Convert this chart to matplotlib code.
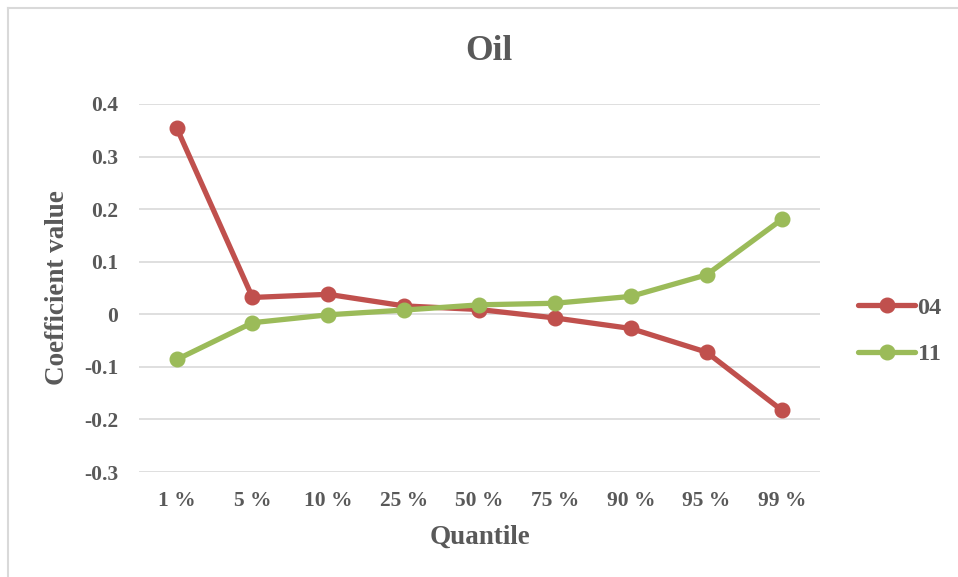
import matplotlib
matplotlib.use("Agg")
import matplotlib.pyplot as plt
from matplotlib.lines import Line2D

quantiles = ["1 %", "5 %", "10 %", "25 %", "50 %", "75 %", "90 %", "95 %", "99 %"]
series_04 = [0.354, 0.032, 0.038, 0.016, 0.009, -0.007, -0.027, -0.072, -0.183]
series_11 = [-0.086, -0.016, -0.001, 0.008, 0.018, 0.021, 0.034, 0.075, 0.181]
y_ticks = [-0.3, -0.2, -0.1, 0, 0.1, 0.2, 0.3, 0.4]
y_tick_labels = ["-0.3", "-0.2", "-0.1", "0", "0.1", "0.2", "0.3", "0.4"]

TEXT = "#595959"
RED = "#C0504D"
GREEN = "#9BBB59"
GRID = "#D9D9D9"
FONT = "Liberation Serif"

W, H = 958, 577
fig = plt.figure(figsize=(W / 100, H / 100), dpi=100)
fig.patch.set_facecolor("white")

# axes box in pixel coordinates
left, right, top, bottom = 139, 820, 104, 472
ax = fig.add_axes([left / W, 1 - bottom / H, (right - left) / W, (bottom - top) / H])

x = list(range(len(quantiles)))
ax.plot(x, series_04, color=RED, lw=3.8, marker="o", ms=10.5, label="04",
        solid_capstyle="round", zorder=3)
ax.plot(x, series_11, color=GREEN, lw=3.8, marker="o", ms=10.5, label="11",
        solid_capstyle="round", zorder=3)

ax.set_xlim(-0.5, len(quantiles) - 0.5)
ax.set_ylim(-0.3, 0.4)
ax.set_yticks(y_ticks)
ax.set_yticklabels(y_tick_labels)
ax.set_xticks(x)
ax.set_xticklabels(quantiles)
ax.yaxis.grid(True, color=GRID, lw=1.2)
ax.set_axisbelow(True)
for s in ax.spines.values():
    s.set_visible(False)
ax.tick_params(length=0)
ax.tick_params(axis="y", pad=15)
ax.tick_params(axis="x", pad=14)
for lab in ax.get_xticklabels() + ax.get_yticklabels():
    lab.set_fontfamily(FONT)
    lab.set_fontweight("bold")
    lab.set_fontsize(15.5)
    lab.set_color(TEXT)

fig.text(489 / W, 1 - 52 / H, "Oil", ha="center", va="center", fontfamily=FONT,
         fontweight="bold", fontsize=25.5, color=TEXT)
fig.text(480 / W, 1 - 537 / H, "Quantile", ha="center", va="center", fontfamily=FONT,
         fontweight="bold", fontsize=19.5, color=TEXT)
fig.text(58 / W, 1 - 288 / H, "Coefficient value", ha="center", va="center",
         rotation=90, fontfamily=FONT, fontweight="bold", fontsize=19.5, color=TEXT)

leg = ax.legend(loc="center left", bbox_to_anchor=(858 / W, 1 - 331 / H),
                bbox_transform=fig.transFigure, frameon=False, handlelength=2.35,
                handletextpad=0.1, labelspacing=1.0, borderpad=0, borderaxespad=0,
                prop={"family": FONT, "weight": "bold", "size": 17.5})
for t in leg.get_texts():
    t.set_color(TEXT)

# chart area border
fig.add_artist(Line2D([8 / W, 8 / W], [0, 1 - 8 / H], color=GRID, lw=1.5,
                      transform=fig.transFigure))
fig.add_artist(Line2D([8 / W, 1], [1 - 8 / H, 1 - 8 / H], color=GRID, lw=1.5,
                      transform=fig.transFigure))

fig.savefig("out.png", dpi=100, facecolor="white")
